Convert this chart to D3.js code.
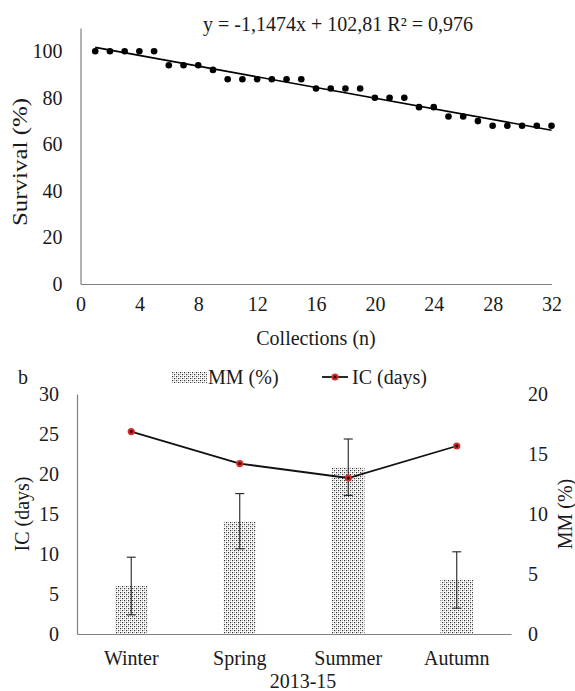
<!DOCTYPE html>
<html lang="en">
<head>
  <meta charset="UTF-8">
  <title>Survival and seasons</title>
  <style>
    body { margin: 0; background: #fff; }
    svg text { font-family: "Liberation Serif", "Times New Roman", serif; fill: #1a1a1a; }
  </style>
</head>
<body>
  <svg id="svg" width="575" height="691"></svg>
  <script src="https://cdn.jsdelivr.net/npm/d3@7"></script>
  <script>
    // top panel data
    const collections = [1, 2, 3, 4, 5, 6, 7, 8, 9, 10, 11, 12, 13, 14, 15, 16,
      17, 18, 19, 20, 21, 22, 23, 24, 25, 26, 27, 28, 29, 30, 31, 32]
    const survival = [100, 100, 100, 100, 100, 94, 94, 94, 92, 88, 88, 88, 88, 88, 88, 84,
      84, 84, 84, 80, 80, 80, 76, 76, 72, 72, 70, 68, 68, 68, 68, 68]
    const trendSlope = -1.1474
    const trendIntercept = 102.81
    const trendLabel = 'y = -1,1474x + 102,81  R² = 0,976'
    const survivalTicks = [0, 20, 40, 60, 80, 100]
    const collectionTicks = [0, 4, 8, 12, 16, 20, 24, 28, 32]

    // bottom panel data
    const seasons = ['Winter', 'Spring', 'Summer', 'Autumn']
    const mmValues = [4.0, 9.4, 13.9, 4.5]
    const mmErrors = [2.4, 2.3, 2.35, 2.35]
    const icValues = [25.3, 21.3, 19.5, 23.5]
    const icTicks = [0, 5, 10, 15, 20, 25, 30]
    const mmTicks = [0, 5, 10, 15, 20]

    const svg = d3.select('#svg')
    const axisColor = '#808080'
    const fontSize = 20

    // ---------- panel a ----------
    const xA = d3.scaleLinear().domain([0, 32]).range([80.5, 551.5])
    const yA = d3.scaleLinear().domain([0, 110]).range([284, 28])

    const leftA = d3.axisLeft(yA).tickValues(survivalTicks).tickSize(0).tickPadding(18)
    const gLeftA = svg.append('g').attr('transform', `translate(${xA(0)},0)`).call(leftA)
    const bottomA = d3.axisBottom(xA).tickValues(collectionTicks).tickSize(0).tickPadding(13)
    const gBottomA = svg.append('g').attr('transform', `translate(0,${yA(0)})`).call(bottomA)

    for (const g of [gLeftA, gBottomA]) {
      g.select('.domain').attr('stroke', axisColor).attr('stroke-width', 1.2)
      g.selectAll('text').attr('font-size', fontSize).attr('font-family', 'Liberation Serif').attr('fill', '#1a1a1a')
    }

    // trend line
    const trendX = [collections[0], collections[collections.length - 1]]
    svg.append('path')
      .attr('d', d3.line().x(d => xA(d)).y(d => yA(trendSlope * d + trendIntercept))(trendX))
      .attr('stroke', '#000')
      .attr('stroke-width', 1.6)
      .attr('fill', 'none')

    svg.append('g')
      .selectAll('circle')
      .data(collections)
      .enter()
      .append('circle')
      .attr('cx', d => xA(d))
      .attr('cy', (d, i) => yA(survival[i]))
      .attr('r', 3.3)
      .attr('fill', '#000')

    svg.append('text')
      .attr('x', 338).attr('y', 31)
      .attr('text-anchor', 'middle')
      .attr('font-size', fontSize)
      .text(trendLabel)

    svg.append('text')
      .attr('transform', 'translate(27,162) rotate(-90)')
      .attr('text-anchor', 'middle')
      .attr('font-size', fontSize)
      .attr('textLength', 128)
      .attr('lengthAdjust', 'spacingAndGlyphs')
      .text('Survival (%)')

    svg.append('text')
      .attr('x', 316).attr('y', 345)
      .attr('text-anchor', 'middle')
      .attr('font-size', fontSize)
      .text('Collections (n)')

    // ---------- panel b ----------
    const xB = d3.scaleBand().domain(seasons).range([77, 511])
    const yIC = d3.scaleLinear().domain([0, 30]).range([634, 394])
    const yMM = d3.scaleLinear().domain([0, 20]).range([634, 394])
    const barW = xB.bandwidth() * 0.3

    // dotted fill like the office pattern
    const defs = svg.append('defs')
    const pat = defs.append('pattern')
      .attr('id', 'dots')
      .attr('width', 4).attr('height', 4)
      .attr('patternUnits', 'userSpaceOnUse')
    pat.append('rect').attr('width', 4).attr('height', 4).attr('fill', '#fff')
    pat.append('rect').attr('x', 0).attr('y', 0).attr('width', 1.2).attr('height', 1.2).attr('fill', '#333')
    pat.append('rect').attr('x', 2).attr('y', 2).attr('width', 1.2).attr('height', 1.2).attr('fill', '#333')
    pat.append('rect').attr('x', 2).attr('y', 0).attr('width', 1).attr('height', 1).attr('fill', '#aaa')
    pat.append('rect').attr('x', 0).attr('y', 2).attr('width', 1).attr('height', 1).attr('fill', '#aaa')

    svg.append('g')
      .selectAll('rect')
      .data(seasons)
      .enter()
      .append('rect')
      .attr('x', d => xB(d) + xB.bandwidth() / 2 - barW / 2)
      .attr('y', (d, i) => yMM(mmValues[i]))
      .attr('width', barW)
      .attr('height', (d, i) => yMM(0) - yMM(mmValues[i]))
      .attr('fill', 'url(#dots)')

    // error bars
    const errG = svg.append('g').attr('stroke', '#222').attr('stroke-width', 1.1)
    seasons.forEach((s, i) => {
      const cx = xB(s) + xB.bandwidth() / 2
      const top = yMM(mmValues[i] + mmErrors[i])
      const bot = yMM(mmValues[i] - mmErrors[i])
      errG.append('line').attr('x1', cx).attr('x2', cx).attr('y1', top).attr('y2', bot)
      errG.append('line').attr('x1', cx - 4.5).attr('x2', cx + 4.5).attr('y1', top).attr('y2', top)
      errG.append('line').attr('x1', cx - 4.5).attr('x2', cx + 4.5).attr('y1', bot).attr('y2', bot)
    })

    const leftB = d3.axisLeft(yIC).tickValues(icTicks).tickSize(0).tickPadding(18)
    const gLeftB = svg.append('g').attr('transform', `translate(77,0)`).call(leftB)
    const rightB = d3.axisRight(yMM).tickValues(mmTicks).tickSize(0).tickPadding(17)
    const gRightB = svg.append('g').attr('transform', `translate(511,0)`).call(rightB)
    gRightB.select('.domain').remove()
    const bottomB = d3.axisBottom(xB).tickSize(0).tickPadding(17)
    const gBottomB = svg.append('g').attr('transform', `translate(0,634)`).call(bottomB)

    for (const g of [gLeftB, gRightB, gBottomB]) {
      g.select('.domain').attr('stroke', axisColor).attr('stroke-width', 1.2)
      g.selectAll('text').attr('font-size', fontSize).attr('font-family', 'Liberation Serif').attr('fill', '#1a1a1a')
    }

    // IC line
    svg.append('path')
      .attr('d', d3.line().x(d => xB(d) + xB.bandwidth() / 2).y((d, i) => yIC(icValues[i]))(seasons))
      .attr('stroke', '#111')
      .attr('stroke-width', 1.8)
      .attr('fill', 'none')

    const marks = svg.append('g')
      .selectAll('g')
      .data(seasons)
      .enter()
      .append('g')
      .attr('transform', (d, i) => `translate(${xB(d) + xB.bandwidth() / 2},${yIC(icValues[i])})`)
    marks.append('circle').attr('r', 3.6).attr('fill', '#d62c2c')
    marks.append('circle').attr('r', 1.6).attr('fill', '#2a0000')

    // legend
    svg.append('rect').attr('x', 172).attr('y', 372).attr('width', 35).attr('height', 11).attr('fill', 'url(#dots)')
    svg.append('text').attr('x', 208).attr('y', 384).attr('font-size', fontSize).text('MM (%)')
    svg.append('line').attr('x1', 322).attr('x2', 348).attr('y1', 377).attr('y2', 377)
      .attr('stroke', '#111').attr('stroke-width', 1.8)
    svg.append('circle').attr('cx', 335).attr('cy', 377).attr('r', 3.6).attr('fill', '#d62c2c')
    svg.append('circle').attr('cx', 335).attr('cy', 377).attr('r', 1.6).attr('fill', '#2a0000')
    svg.append('text').attr('x', 352).attr('y', 384).attr('font-size', fontSize).text('IC (days)')

    svg.append('text').attr('x', 18).attr('y', 384).attr('font-size', fontSize).text('b')

    svg.append('text')
      .attr('transform', 'translate(29,514) rotate(-90)')
      .attr('text-anchor', 'middle')
      .attr('font-size', fontSize)
      .text('IC (days)')

    svg.append('text')
      .attr('transform', 'translate(572,514) rotate(-90)')
      .attr('text-anchor', 'middle')
      .attr('font-size', fontSize)
      .text('MM (%)')

    svg.append('text')
      .attr('x', 303).attr('y', 688)
      .attr('text-anchor', 'middle')
      .attr('font-size', fontSize)
      .text('2013-15')
  </script>
</body>
</html>
